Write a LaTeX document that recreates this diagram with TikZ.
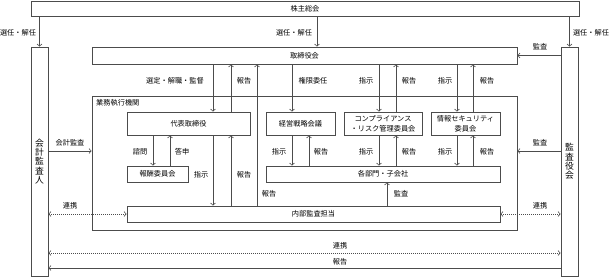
\documentclass[tikz,border=0pt]{standalone}
\usepackage{fontspec}
\setmainfont{Noto Sans CJK JP}
\usetikzlibrary{arrows.meta,shadows}
\newcommand\lblfont{\fontsize{7.2}{10}\selectfont}
\newcommand\vertfont{\fontsize{8.8}{9.4}\selectfont}
\begin{document}
\begin{tikzpicture}[x=1pt,y=-1pt,
  >={Straight Barb[length=2.2pt,width=4.6pt]},
  box/.style={draw=black!70, line width=0.65pt, fill=white, inner sep=0pt,
    drop shadow={shadow xshift=0.8pt, shadow yshift=-0.8pt, fill=black!30, opacity=1},
    font=\lblfont, text=black, align=center},
  lbl/.style={font=\lblfont, inner sep=0pt, text=black},
  conn/.style={draw=black!70, line width=0.65pt, ->},
  link/.style={draw=black!70, line width=0.65pt, <->, dash pattern=on 1pt off 1pt}
]
\useasboundingbox (0,0) rectangle (611,277);
% columns and rows
\coordinate (cA) at (213,0);
\coordinate (cB) at (231,0);
\coordinate (cC) at (257,0);
\coordinate (cD) at (292,0);
\coordinate (cE) at (309,0);
\coordinate (cF) at (379,0);
\coordinate (cG) at (396,0);
\coordinate (cH) at (457,0);
\coordinate (cI) at (473,0);
\coordinate (cJ) at (153,0);
\coordinate (cK) at (170,0);
\coordinate (cL) at (387,0);
\coordinate (cO) at (317,0);
\coordinate (r2) at (0,151);
\coordinate (r4) at (0,253);
\coordinate (r5) at (0,268);
% boxes
\node[box, minimum width=548pt, minimum height=15pt] (kabu) at (305,8.5) {株主総会};
\node[box, minimum width=17pt, minimum height=229pt, font=\vertfont] (kaikei) at (39.5,161.5) {会\\計\\監\\査\\人};
\node[box, minimum width=17pt, minimum height=229pt, font=\vertfont] (kansa) at (569.5,161.5) {監\\査\\役\\会};
\node[box, minimum width=425pt, minimum height=17pt] (tori) at (304.5,55.5) {取締役会};
\node[box, minimum width=425pt, minimum height=134pt] (gyomu) at (304.5,163) {};
\node[lbl, anchor=west] (gyomulbl) at (96,103) {業務執行機関};
\node[box, minimum width=123pt, minimum height=23pt] (daihyo) at (188.5,123.5) {代表取締役};
\node[box, minimum width=61pt, minimum height=16pt] (hoshu) at (157.5,174) {報酬委員会};
\node[box, minimum width=69pt, minimum height=23pt] (keiei) at (300.5,123.5) {経営戦略会議};
\node[box, minimum width=78pt, minimum height=23pt] (comp) at (383,123.5) {コンプライアンス\\・リスク管理委員会};
\node[box, minimum width=69pt, minimum height=23pt] (info) at (465.5,123.5) {情報セキュリティ\\委員会};
\node[box, minimum width=234pt, minimum height=16pt] (kakubu) at (383,174) {各部門・子会社};
\node[box, minimum width=373pt, minimum height=16pt] (naibu) at (313.5,214) {内部監査担当};
% connectors
\draw[conn] (kabu.south -| kaikei.north) -- (kaikei.north);
\draw[conn] (kabu.south -| kansa.north) -- (kansa.north);
\draw[conn] (kabu.south -| cO) -- (tori.north -| cO);
\draw[conn] (kansa.west |- tori.east) -- (tori.east);
\draw[conn] (tori.south -| cA) -- (daihyo.north -| cA);
\draw[conn] (daihyo.north -| cB) -- (tori.south -| cB);
\draw[conn] (naibu.north -| cC) -- (tori.south -| cC);
\draw[conn] (tori.south -| cD) -- (keiei.north -| cD);
\draw[conn] (tori.south -| cF) -- (comp.north -| cF);
\draw[conn] (comp.north -| cG) -- (tori.south -| cG);
\draw[conn] (tori.south -| cH) -- (info.north -| cH);
\draw[conn] (info.north -| cI) -- (tori.south -| cI);
\draw[conn] (daihyo.south -| cJ) -- (hoshu.north -| cJ);
\draw[conn] (hoshu.north -| cK) -- (daihyo.south -| cK);
\draw[conn] (daihyo.south -| cA) -- (naibu.north -| cA);
\draw[conn] (naibu.north -| cB) -- (daihyo.south -| cB);
\draw[conn] (keiei.south -| cD) -- (kakubu.north -| cD);
\draw[conn] (kakubu.north -| cE) -- (keiei.south -| cE);
\draw[conn] (comp.south -| cF) -- (kakubu.north -| cF);
\draw[conn] (kakubu.north -| cG) -- (comp.south -| cG);
\draw[conn] (info.south -| cH) -- (kakubu.north -| cH);
\draw[conn] (kakubu.north -| cI) -- (info.south -| cI);
\draw[conn] (naibu.north -| cL) -- (kakubu.south -| cL);
\draw[conn] (kaikei.east |- r2) -- (gyomu.west |- r2);
\draw[conn] (kansa.west |- r2) -- (gyomu.east |- r2);
\draw[link] (kaikei.east |- naibu.west) -- (naibu.west);
\draw[link] (naibu.east) -- (kansa.west |- naibu.east);
\draw[link] (kaikei.east |- r4) -- (kansa.west |- r4);
\draw[conn] (kansa.west |- r5) -- (kaikei.east |- r5);
% labels
\node[lbl] (l1) at (18,33) {選任・解任};
\node[lbl] (l2) at (591,33) {選任・解任};
\node[lbl] (l3) at (294,33) {選任・解任};
\node[lbl] (l4) at (540,47) {監査};
\node[lbl] (l5) at (175,81) {選定・解職・監督};
\node[lbl] (l6) at (244,81) {報告};
\node[lbl] (l7) at (313,81) {権限委任};
\node[lbl] (l8) at (366,81) {指示};
\node[lbl] (l9) at (409,81) {報告};
\node[lbl] (l10) at (445,81) {指示};
\node[lbl] (l11) at (487,81) {報告};
\node[lbl] (l12) at (140,152) {諮問};
\node[lbl] (l13) at (182,152) {答申};
\node[lbl] (l14) at (279,152) {指示};
\node[lbl] (l15) at (321,152) {報告};
\node[lbl] (l16) at (366,152) {指示};
\node[lbl] (l17) at (409,152) {報告};
\node[lbl] (l18) at (445,152) {指示};
\node[lbl] (l19) at (487,152) {報告};
\node[lbl] (l20) at (201,175) {指示};
\node[lbl] (l21) at (244,175) {報告};
\node[lbl] (l22) at (269,194) {報告};
\node[lbl] (l23) at (401,194) {監査};
\node[lbl] (l24) at (70,143) {会計監査};
\node[lbl] (l25) at (540,143) {監査};
\node[lbl] (l26) at (70,206) {連携};
\node[lbl] (l27) at (540,206) {連携};
\node[lbl] (l28) at (340,246) {連携};
\node[lbl] (l29) at (340,262) {報告};
\end{tikzpicture}
\end{document}
